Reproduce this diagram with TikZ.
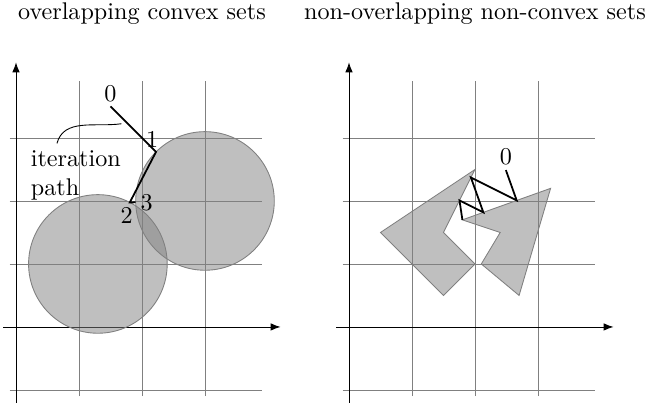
\documentclass[tikz,border=0pt]{standalone}
\usetikzlibrary{calc, arrows.meta}
\tikzset{
  axis/.style={-{Latex[length=4.5pt, width=3.4pt]}, black},
  gridline/.style={gray, step=1},
  setfill/.style={draw=gray, fill=gray, fill opacity=0.5},
  itpath/.style={thick, black},
  itlabel/.style={inner sep=2pt}
}

\begin{document}
\begin{tikzpicture}[font=\fontsize{10.9}{13}\selectfont]
  \useasboundingbox (-0.254,-1.238) rectangle (10.048,5.19);

  % left: overlapping convex sets
  \node (lefttitle) at (2,4.98) {overlapping convex sets};
  \draw[gridline] (-0.1,-1.1) grid (3.9,3.9);
  \draw[axis] (-0.2,0) -- (4.2,0);
  \draw[axis] (0,-1.2) -- (0,4.2);

  \coordinate (c1) at (1.3,1);
  \coordinate (c2) at (3,2);
  \filldraw[setfill] (c1) circle (1.1);
  \filldraw[setfill] (c2) circle (1.1);

  \coordinate (p0) at (1.5,3.5);
  \coordinate (p1) at ($(c2)!1.1cm!(p0)$);
  \coordinate (p2) at ($(c1)!1.1cm!(p1)$);
  \coordinate (p3) at ($(c2)!1.1cm!(p2)$);
  \draw[itpath] (p0) -- (p1) -- (p2) -- (p3);
  \node[itlabel, above] (l0) at (p0) {0};
  \node[itlabel, above, xshift=-0.6mm] (l1) at (p1) {1};
  \node[itlabel, below, xshift=-0.5mm] (l2) at (p2) {2};
  \node[itlabel, right] (l3) at (p3) {3};

  \node[align=left, inner sep=1pt] (itnote) at (0.95,2.4) {iteration\\path};
  \coordinate (noteend) at ($(p0)!0.38!(p1)+(-0.1,0)$);
  \draw ($(itnote.north)+(-0.3,0.08)$) to[out=75, in=188] (noteend);

  % right: non-overlapping non-convex sets
  \begin{scope}[xshift=5.286cm]
    \node (righttitle) at (2,4.98) {non-overlapping non-convex sets};
    \draw[gridline] (-0.1,-1.1) grid (3.9,3.9);
    \draw[axis] (-0.2,0) -- (4.2,0);
    \draw[axis] (0,-1.2) -- (0,4.2);

    \coordinate (a1) at (2,2.5);
    \coordinate (a2) at (0.5,1.5);
    \coordinate (a3) at (1.5,0.5);
    \coordinate (a4) at (2,1);
    \coordinate (a5) at (1.5,1.5);
    \filldraw[setfill] (a1) -- (a2) -- (a3) -- (a4) -- (a5) -- cycle;

    \coordinate (b1) at (3.2,2.2);
    \coordinate (b2) at (2.7,0.5);
    \coordinate (b3) at (2.1,1);
    \coordinate (b4) at (2.4,1.5);
    \coordinate (b5) at (1.8,1.7);
    \filldraw[setfill] (b1) -- (b2) -- (b3) -- (b4) -- (b5) -- cycle;

    \coordinate (q0) at (2.49,2.49);
    \coordinate (q1) at ($(b5)!(q0)!(b1)$);
    \coordinate (q2) at ($(a5)!(q1)!(a1)$);
    \coordinate (q3) at ($(b5)!(q2)!(b1)$);
    \coordinate (q4) at ($(a5)!(q3)!(a1)$);
    \draw[itpath] (q0) -- (q1) -- (q2) -- (q3) -- (q4) -- (b5);
    \node[itlabel, above] (m0) at (q0) {0};
  \end{scope}
\end{tikzpicture}
\end{document}
